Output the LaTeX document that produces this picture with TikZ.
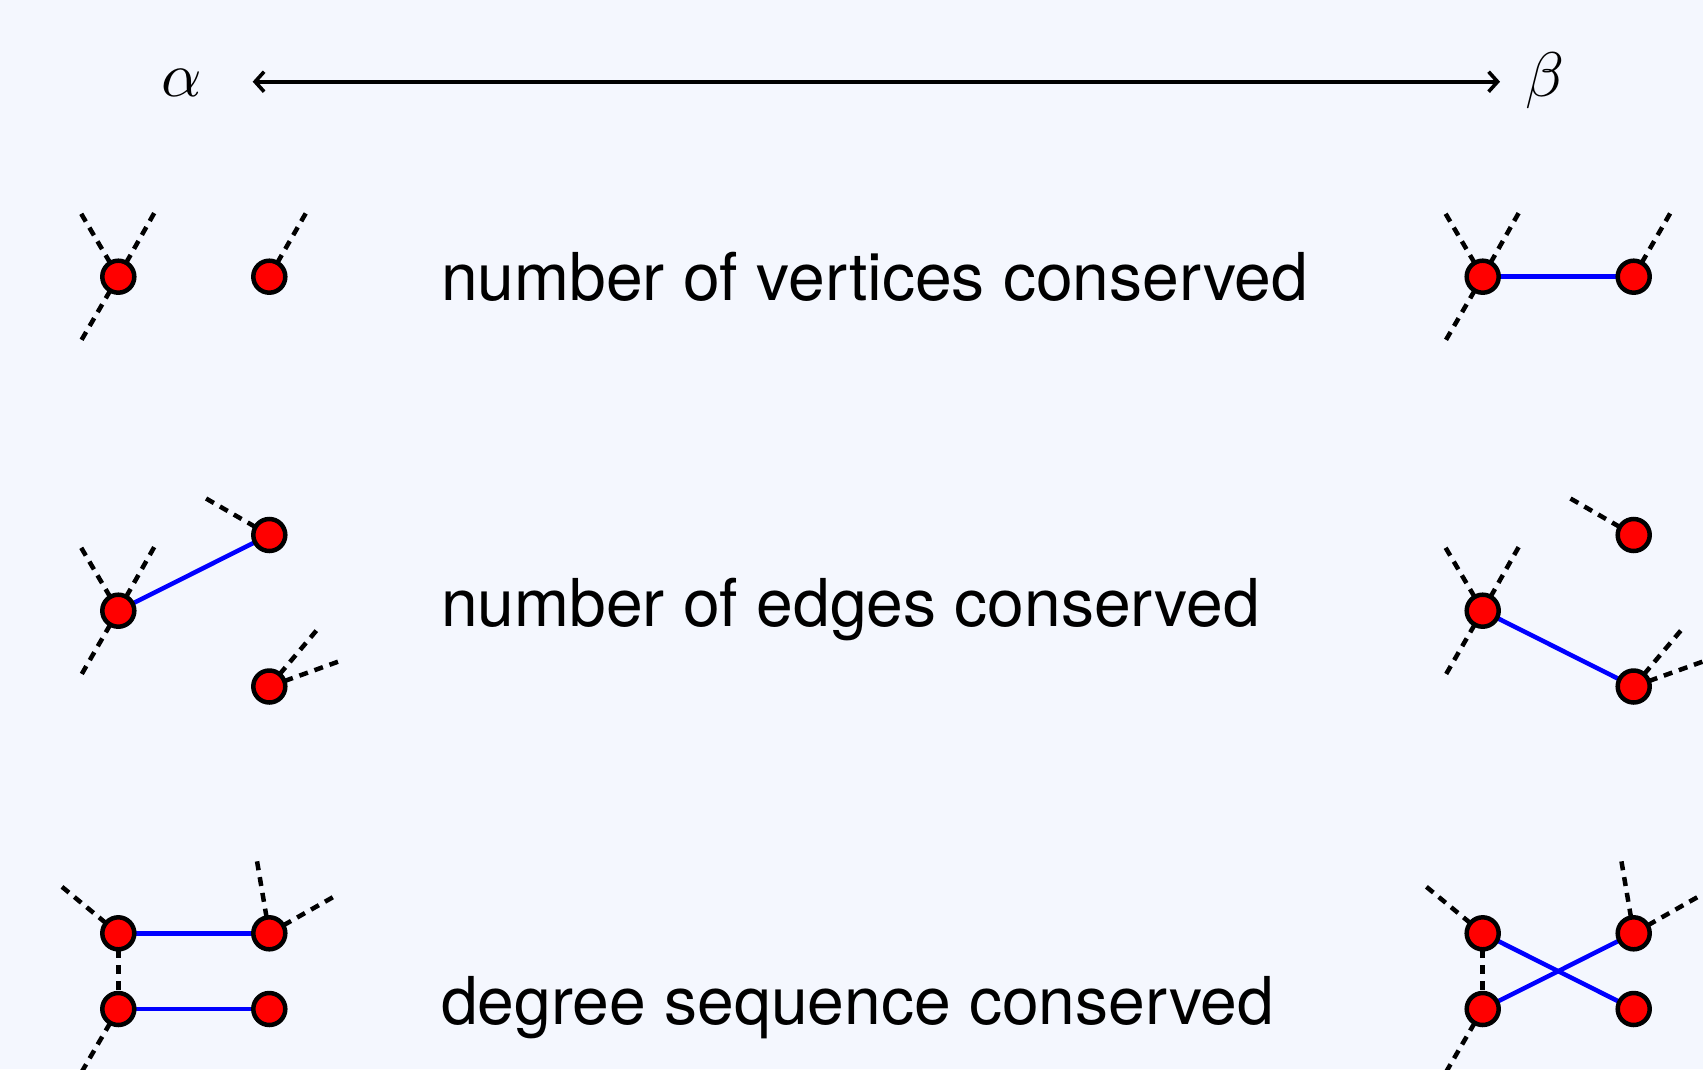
\documentclass[tikz,border=0pt]{standalone}
\usepackage{fontspec}
\newfontfamily\labelfont{TeX Gyre Heros}
\usetikzlibrary{arrows.meta}
\definecolor{paper}{RGB}{244,247,254}
\definecolor{vblue}{RGB}{0,0,255}
\pgfdeclarelayer{back}
\pgfsetlayers{back,main}
\tikzset{barb/.tip={Straight Barb[length=9pt,width=20pt]}}
\begin{document}
\begin{tikzpicture}[x=1pt,y=-1pt,
  vertex/.style={circle,draw=black,fill=red,line width=4.5pt,minimum size=32pt,inner sep=0pt},
  stub/.style={line width=4.5pt,dash pattern=on 9pt off 7pt},
  link/.style={line width=4.5pt,draw=vblue},
  caption/.style={font=\labelfont\fontsize{66}{79}\selectfont,anchor=base west,inner sep=0pt},
  greek/.style={inner sep=0pt}]
\useasboundingbox (0,0) rectangle (1703,1069);
\clip (0,0) rectangle (1703,1069);

% scale from alpha to beta
\node[greek] (alpha) at (181.7,83) {\scalebox{6.3}{$\alpha$}};
\node[greek] (beta) at (1545,81) {\scalebox{6.3}{$\beta$}};
\coordinate (arrL) at (252.7,81.7);
\coordinate (arrR) at (1500,81.7);
\draw[line width=3.6pt,barb-barb] (arrL) -- (arrR);

% captions
\node[caption] (c1) at (441,300) {number of vertices conserved};
\node[caption] (c2) at (441,626.7) {number of edges conserved};
\node[caption] (c3) at (441,1024) {degree sequence conserved};

% ---- vertices ----
% row 1
\node[vertex] (p1) at (118.3,276.7) {};
\node[vertex] (p2) at (269.3,276.7) {};
\node[vertex] (s1) at (1482.7,276.7) {};
\node[vertex] (s2) at (1633.7,276.7) {};
% row 2
\node[vertex] (q1) at (118.3,610.7) {};
\node[vertex] (q2) at (269.3,535) {};
\node[vertex] (q3) at (269.3,686.5) {};
\node[vertex] (t1) at (1482.7,610.7) {};
\node[vertex] (t2) at (1633.7,535) {};
\node[vertex] (t3) at (1633.7,686.5) {};
% row 3
\node[vertex] (r1) at (118.3,933.3) {};
\node[vertex] (r2) at (269.3,933.3) {};
\node[vertex] (r3) at (118.3,1009) {};
\node[vertex] (r4) at (269.3,1009) {};
\node[vertex] (u1) at (1482.7,933.3) {};
\node[vertex] (u2) at (1633.7,933.3) {};
\node[vertex] (u3) at (1482.7,1009) {};
\node[vertex] (u4) at (1633.7,1009) {};

% loose ends of the dashed half-edges
\coordinate (p1a) at (80,211.7);   \coordinate (p1b) at (155,211.7);
\coordinate (p1c) at (80.5,341.7); \coordinate (p2a) at (306.7,211.7);
\coordinate (s1a) at (1444.4,211.7); \coordinate (s1b) at (1519.4,211.7);
\coordinate (s1c) at (1444.9,341.7); \coordinate (s2a) at (1671.1,211.7);

\coordinate (q1a) at (80,545.7);   \coordinate (q1b) at (155,545.7);
\coordinate (q1c) at (81,675.3);   \coordinate (q2a) at (204,497.3);
\coordinate (q3a) at (318.3,628.3); \coordinate (q3b) at (340,661);
\coordinate (t1a) at (1444.4,545.7); \coordinate (t1b) at (1519.4,545.7);
\coordinate (t1c) at (1445.4,675.3); \coordinate (t2a) at (1568.4,497.3);
\coordinate (t3a) at (1682.7,628.3); \coordinate (t3b) at (1704.4,661);

\coordinate (r1a) at (61,886);     \coordinate (r2a) at (256.7,859.3);
\coordinate (r2b) at (335,896);    \coordinate (r3a) at (80.5,1074);
\coordinate (u1a) at (1425.4,886); \coordinate (u2a) at (1621.1,859.3);
\coordinate (u2b) at (1699.4,896); \coordinate (u3a) at (1444.9,1074);

\begin{pgfonlayer}{back}
  \fill[paper] (0,0) rectangle (1703,1069);
  % dashed half-edges
  \foreach \v/\e in {p1/p1a,p1/p1b,p1/p1c,p2/p2a,s1/s1a,s1/s1b,s1/s1c,s2/s2a,
                     q1/q1a,q1/q1b,q1/q1c,q2/q2a,q3/q3a,q3/q3b,
                     t1/t1a,t1/t1b,t1/t1c,t2/t2a,t3/t3a,t3/t3b,
                     r1/r1a,r2/r2a,r2/r2b,r3/r3a,r1/r3,
                     u1/u1a,u2/u2a,u2/u2b,u3/u3a,u1/u3}
    \draw[stub] (\v.center) -- (\e);
  % edges that are swapped
  \draw[link] (s1.center) -- (s2.center);
  \draw[link] (q1.center) -- (q2.center);
  \draw[link] (t1.center) -- (t3.center);
  \draw[link] (r1.center) -- (r2.center);
  \draw[link] (r3.center) -- (r4.center);
  \draw[link] (u1.center) -- (u4.center);
  \draw[link] (u3.center) -- (u2.center);
\end{pgfonlayer}
\end{tikzpicture}
\end{document}
